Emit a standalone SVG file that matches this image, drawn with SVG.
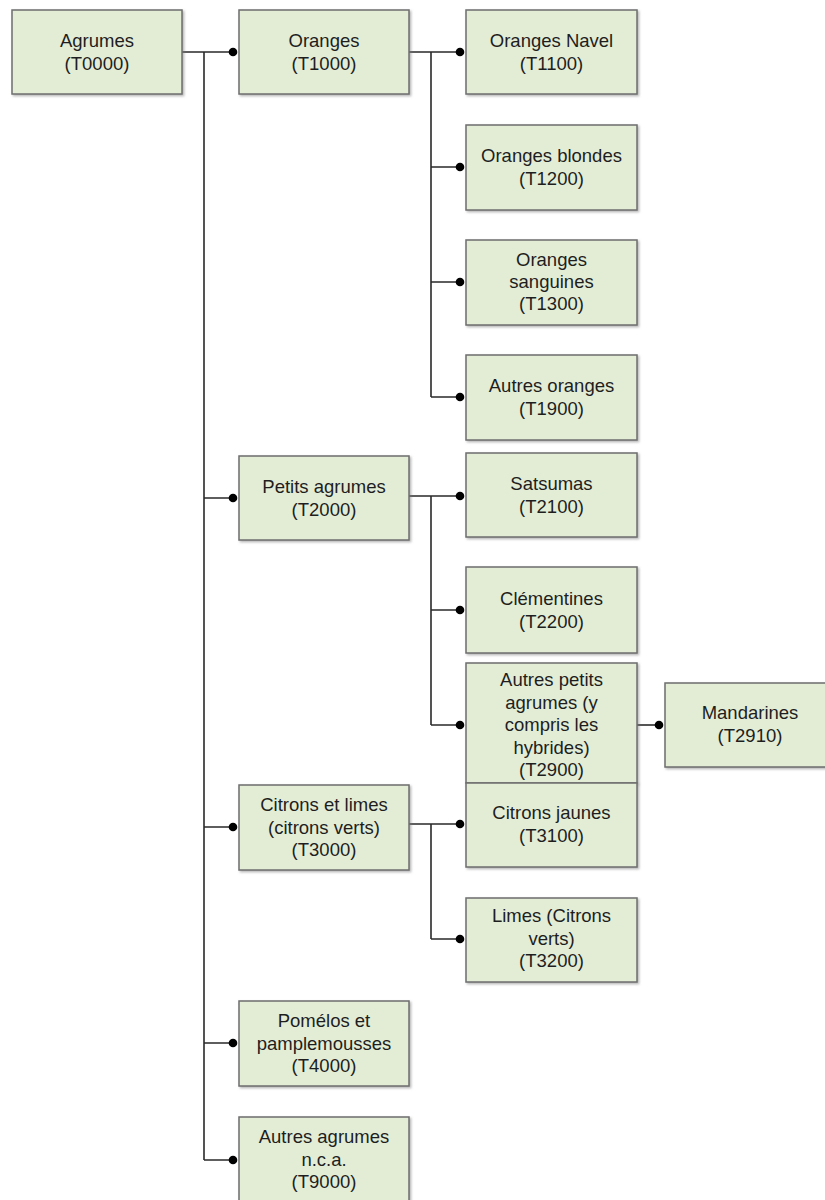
<svg xmlns="http://www.w3.org/2000/svg" width="825" height="1200" viewBox="0 0 825 1200">
<style>
.box{fill:#e3edd6;stroke:#6e6e6e;stroke-width:1.5;filter:url(#sh)}
.t{font-family:"Liberation Sans",Arial,sans-serif;font-size:18.5px;fill:#1e1e1e;text-anchor:middle}
.ln{stroke:#2a2a2a;stroke-width:1.6;fill:none}
.dot{fill:#000}
</style>
<defs>
<filter id="sh" x="-5%" y="-5%" width="115%" height="115%">
<feDropShadow dx="1.5" dy="1.5" stdDeviation="0.8" flood-color="#7a7a7a" flood-opacity="0.55"/>
</filter>
</defs>
<rect width="825" height="1200" fill="#ffffff"/>
<g id="connectors">
<path class="ln" d="M182 52H233M204 52V1160M204 498H233M204 827H233M204 1043H233M204 1160H233"/>
<path class="ln" d="M409 52H460M431 52V397M431 167H460M431 282H460M431 397H460"/>
<path class="ln" d="M409 496H460M431 496V725M431 610H460M431 725H460"/>
<path class="ln" d="M637 725H659"/>
<path class="ln" d="M409 824H460M431 824V939M431 939H460"/>
<circle class="dot" cx="233" cy="52" r="4.3"/>
<circle class="dot" cx="233" cy="498" r="4.3"/>
<circle class="dot" cx="233" cy="827" r="4.3"/>
<circle class="dot" cx="233" cy="1043" r="4.3"/>
<circle class="dot" cx="233" cy="1160" r="4.3"/>
<circle class="dot" cx="460" cy="52" r="4.3"/>
<circle class="dot" cx="460" cy="167" r="4.3"/>
<circle class="dot" cx="460" cy="282" r="4.3"/>
<circle class="dot" cx="460" cy="397" r="4.3"/>
<circle class="dot" cx="460" cy="496" r="4.3"/>
<circle class="dot" cx="460" cy="610" r="4.3"/>
<circle class="dot" cx="460" cy="725" r="4.3"/>
<circle class="dot" cx="460" cy="824" r="4.3"/>
<circle class="dot" cx="460" cy="939" r="4.3"/>
<circle class="dot" cx="659" cy="725" r="4.3"/>
</g>
<g id="T0000"><rect class="box" x="12" y="10" width="170" height="84"/>
<text class="t" x="97" y="47">Agrumes</text><text class="t" x="97" y="69.5">(T0000)</text></g>
<g id="T1000"><rect class="box" x="239" y="10" width="170" height="84"/>
<text class="t" x="324" y="47">Oranges</text><text class="t" x="324" y="69.5">(T1000)</text></g>
<g id="T1100"><rect class="box" x="466" y="10" width="171" height="84"/>
<text class="t" x="551.5" y="47">Oranges Navel</text><text class="t" x="551.5" y="69.5">(T1100)</text></g>
<g id="T1200"><rect class="box" x="466" y="125" width="171" height="85"/>
<text class="t" x="551.5" y="162">Oranges blondes</text><text class="t" x="551.5" y="184.5">(T1200)</text></g>
<g id="T1300"><rect class="box" x="466" y="240" width="171" height="85"/>
<text class="t" x="551.5" y="266">Oranges</text><text class="t" x="551.5" y="288">sanguines</text><text class="t" x="551.5" y="310">(T1300)</text></g>
<g id="T1900"><rect class="box" x="466" y="355" width="171" height="85"/>
<text class="t" x="551.5" y="392">Autres oranges</text><text class="t" x="551.5" y="414.5">(T1900)</text></g>
<g id="T2000"><rect class="box" x="239" y="456" width="170" height="84"/>
<text class="t" x="324" y="493">Petits agrumes</text><text class="t" x="324" y="515.5">(T2000)</text></g>
<g id="T2100"><rect class="box" x="466" y="453" width="171" height="84"/>
<text class="t" x="551.5" y="490">Satsumas</text><text class="t" x="551.5" y="512.5">(T2100)</text></g>
<g id="T2200"><rect class="box" x="466" y="567" width="171" height="86"/>
<text class="t" x="551.5" y="605">Clémentines</text><text class="t" x="551.5" y="627.5">(T2200)</text></g>
<g id="T2900"><rect class="box" x="466" y="663" width="171" height="120"/>
<text class="t" x="551.5" y="686">Autres petits</text><text class="t" x="551.5" y="708.5">agrumes (y</text><text class="t" x="551.5" y="731">compris les</text><text class="t" x="551.5" y="753.5">hybrides)</text><text class="t" x="551.5" y="776">(T2900)</text></g>
<g id="T2910"><rect class="box" x="665" y="683" width="170" height="84"/>
<text class="t" x="750" y="719">Mandarines</text><text class="t" x="750" y="741.5">(T2910)</text></g>
<g id="T3000"><rect class="box" x="239" y="785" width="170" height="85"/>
<text class="t" x="324" y="811">Citrons et limes</text><text class="t" x="324" y="833.5">(citrons verts)</text><text class="t" x="324" y="856">(T3000)</text></g>
<g id="T3100"><rect class="box" x="466" y="783" width="171" height="84"/>
<text class="t" x="551.5" y="819">Citrons jaunes</text><text class="t" x="551.5" y="841.5">(T3100)</text></g>
<g id="T3200"><rect class="box" x="466" y="898" width="171" height="84"/>
<text class="t" x="551.5" y="922">Limes (Citrons</text><text class="t" x="551.5" y="944.5">verts)</text><text class="t" x="551.5" y="967">(T3200)</text></g>
<g id="T4000"><rect class="box" x="239" y="1001" width="170" height="85"/>
<text class="t" x="324" y="1027">Pomélos et</text><text class="t" x="324" y="1049.5">pamplemousses</text><text class="t" x="324" y="1072">(T4000)</text></g>
<g id="T9000"><rect class="box" x="239" y="1117" width="170" height="85"/>
<text class="t" x="324" y="1143">Autres agrumes</text><text class="t" x="324" y="1165.5">n.c.a.</text><text class="t" x="324" y="1188">(T9000)</text></g>
</svg>
